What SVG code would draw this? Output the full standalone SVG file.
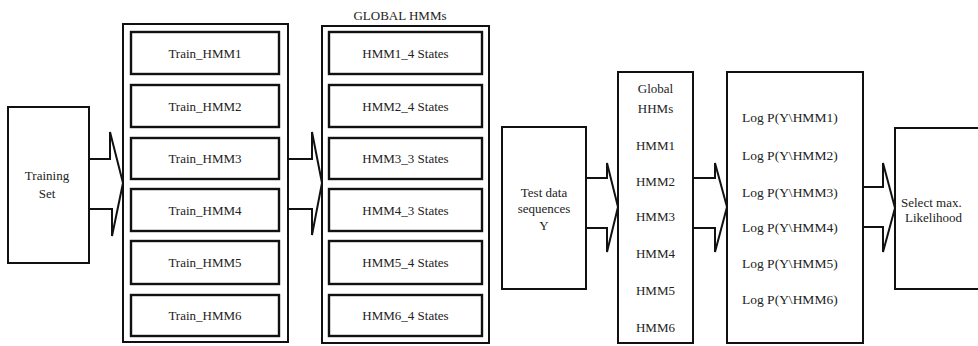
<svg xmlns="http://www.w3.org/2000/svg" width="978" height="346" viewBox="0 0 978 346">
<style>
.box{fill:#fff;stroke:#111;stroke-width:2}
.inner{fill:#fff;stroke:#111;stroke-width:2.4}
.arr{fill:#fff;stroke:#111;stroke-width:2;stroke-linejoin:miter}
text{font-family:"Liberation Serif","Times New Roman",serif;font-size:13px;fill:#222}
.c{text-anchor:middle}
.lg{font-size:13.5px}
</style>
<rect width="978" height="346" fill="#fff"/>
<g id="connectors">
<polyline class="arr" points="88,159 110,159 110,132 123,183 112,236 112,209 88,209"/>
<polyline class="arr" points="288,159 312,159 312,132 322,183 312,235 312,209 288,209"/>
<polyline class="arr" points="586,178 607,178 607,163 618,207 607,252 607,228 586,228"/>
<polyline class="arr" points="693,178 715,178 715,163 727,207 715,252 715,228 693,228"/>
<polyline class="arr" points="863,187 883,187 883,163 895,208 883,252 883,227 863,227"/>
</g>
<g id="training-set">
<rect class="box" x="8" y="107" width="81" height="156"/>
<text class="c" x="47" y="180">Training</text>
<text class="c" x="47" y="198">Set</text>
</g>
<g id="train-hmms">
<rect class="box" x="123" y="24" width="165" height="318"/>
<g id="train-hmm1"><rect class="inner" x="131" y="32" width="148" height="42"/><text class="c" x="205" y="57.5">Train_HMM1</text></g>
<g id="train-hmm2"><rect class="inner" x="131" y="85" width="148" height="42"/><text class="c" x="205" y="110.5">Train_HMM2</text></g>
<g id="train-hmm3"><rect class="inner" x="131" y="138" width="148" height="41"/><text class="c" x="205" y="163">Train_HMM3</text></g>
<g id="train-hmm4"><rect class="inner" x="131" y="189" width="148" height="42"/><text class="c" x="205" y="215">Train_HMM4</text></g>
<g id="train-hmm5"><rect class="inner" x="131" y="241" width="148" height="43"/><text class="c" x="205" y="267">Train_HMM5</text></g>
<g id="train-hmm6"><rect class="inner" x="131" y="295" width="148" height="41"/><text class="c" x="205" y="320">Train_HMM6</text></g>
</g>
<g id="global-hmms">
<text class="c" x="400" y="19.5">GLOBAL HMMs</text>
<rect class="box" x="322" y="26" width="167" height="317"/>
<g id="hmm1-states"><rect class="inner" x="329" y="32" width="153" height="42"/><text class="c" x="405.5" y="57.5">HMM1_4 States</text></g>
<g id="hmm2-states"><rect class="inner" x="329" y="85" width="153" height="42"/><text class="c" x="405.5" y="110.5">HMM2_4 States</text></g>
<g id="hmm3-states"><rect class="inner" x="329" y="138" width="153" height="41"/><text class="c" x="405.5" y="163">HMM3_3 States</text></g>
<g id="hmm4-states"><rect class="inner" x="329" y="189" width="153" height="42"/><text class="c" x="405.5" y="215">HMM4_3 States</text></g>
<g id="hmm5-states"><rect class="inner" x="329" y="241" width="153" height="43"/><text class="c" x="405.5" y="267">HMM5_4 States</text></g>
<g id="hmm6-states"><rect class="inner" x="329" y="295" width="153" height="41"/><text class="c" x="405.5" y="320">HMM6_4 States</text></g>
</g>
<g id="test-data">
<rect class="box" x="502" y="127" width="84" height="162"/>
<text class="c" x="544" y="197">Test data</text>
<text class="c" x="544" y="213">sequences</text>
<text class="c" x="544" y="230">Y</text>
</g>
<g id="global-hhms">
<rect class="box" x="618" y="72" width="75" height="271"/>
<text class="c" x="655.5" y="92.5">Global</text>
<text class="c" x="655.5" y="112.5">HHMs</text>
<text class="c" x="655.5" y="149.5">HMM1</text>
<text class="c" x="655.5" y="186">HMM2</text>
<text class="c" x="655.5" y="221">HMM3</text>
<text class="c" x="655.5" y="258">HMM4</text>
<text class="c" x="655.5" y="295">HMM5</text>
<text class="c" x="655.5" y="331.5">HMM6</text>
</g>
<g id="log-likelihoods">
<rect class="box" x="727" y="72" width="136" height="271"/>
<text class="lg" x="742" y="122">Log P(Y\HMM1)</text>
<text class="lg" x="742" y="159.5">Log P(Y\HMM2)</text>
<text class="lg" x="742" y="196.5">Log P(Y\HMM3)</text>
<text class="lg" x="742" y="232">Log P(Y\HMM4)</text>
<text class="lg" x="742" y="267.5">Log P(Y\HMM5)</text>
<text class="lg" x="742" y="304">Log P(Y\HMM6)</text>
</g>
<g id="select-max">
<rect class="box" x="895" y="128" width="100" height="161"/>
<text x="901" y="206.5">Select max.</text>
<text x="905" y="221.5">Likelihood</text>
</g>
</svg>
